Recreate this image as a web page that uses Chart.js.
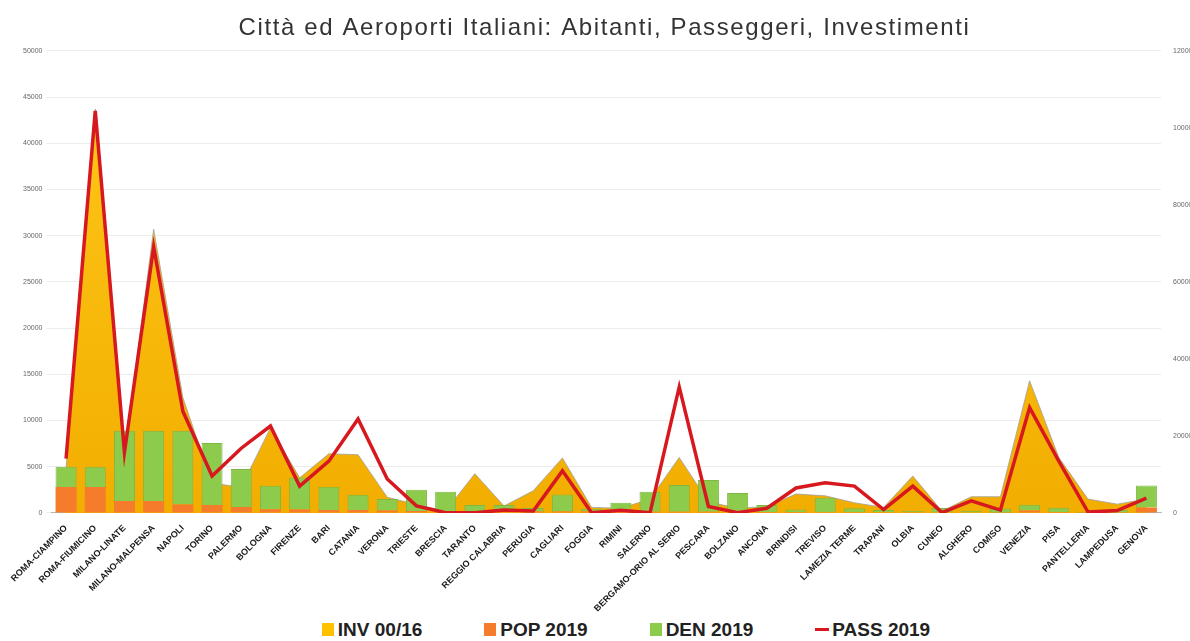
<!DOCTYPE html>
<html lang="it">
<head>
  <meta charset="UTF-8" />
  <script src="https://cdn.jsdelivr.net/npm/chart.js"></script>
  <title>Città ed Aeroporti Italiani</title>
  <style>
    body { margin: 0; background: #fff; font-family: "Liberation Sans", Arial, sans-serif; }
    #wrap { position: relative; width: 1190px; height: 618px; }
    #legend { display: flex; justify-content: center; gap: 62px; height: 23px; align-items: center; padding-left: 62px; }
    #legend .item { display: flex; align-items: center; font-weight: bold; font-size: 19px; color: #222; }
    #legend .box { width: 12px; height: 13px; margin-right: 4px; }
    #legend .line { width: 14px; height: 3px; margin-right: 3px; }
  </style>
</head>
<body>
  <div id="wrap"><canvas id="chart"></canvas></div>
  <div id="legend"></div>

  <script>
    const cities = ['ROMA-CIAMPINO', 'ROMA-FIUMICINO', 'MILANO-LINATE', 'MILANO-MALPENSA', 'NAPOLI',
      'TORINO', 'PALERMO', 'BOLOGNA', 'FIRENZE', 'BARI', 'CATANIA', 'VERONA', 'TRIESTE', 'BRESCIA',
      'TARANTO', 'REGGIO CALABRIA', 'PERUGIA', 'CAGLIARI', 'FOGGIA', 'RIMINI', 'SALERNO',
      'BERGAMO-ORIO AL SERIO', 'PESCARA', 'BOLZANO', 'ANCONA', 'BRINDISI', 'TREVISO', 'LAMEZIA TERME',
      'TRAPANI', 'OLBIA', 'CUNEO', 'ALGHERO', 'COMISO', 'VENEZIA', 'PISA', 'PANTELLERIA', 'LAMPEDUSA', 'GENOVA'];

    // investimenti 2000-2016
    const inv = [4800, 43700, 6500, 30700, 12500, 3200, 2800, 9200, 3800, 6400, 6300, 1700, 900, 200,
      4250, 750, 2400, 5950, 600, 500, 1500, 6000, 1200, 500, 700, 2050, 1850, 1100, 600, 4000,
      200, 1750, 1750, 14300, 6000, 1500, 950, 1500];

    // popolazione (migliaia)
    const pop = [2800, 2800, 1300, 1300, 900, 870, 650, 390, 380, 320, 310, 260, 200, 200, 195, 180,
      165, 150, 150, 150, 130, 120, 120, 107, 100, 87, 85, 70, 67, 60, 56, 44, 30, 260, 90, 8, 6, 580];

    // densità abitanti/km2
    const den = [2200, 2200, 7600, 7600, 8000, 6700, 4100, 2550, 3450, 2500, 1650, 1250, 2300, 2100,
      670, 680, 360, 1850, 300, 950, 2150, 2900, 3450, 2050, 760, 270, 1550, 440, 240, 160, 470,
      190, 460, 630, 480, 90, 300, 2400];

    // passeggeri 2019 (migliaia)
    const pass = [5880, 43500, 6570, 28800, 11000, 4000, 7000, 9400, 2900, 5600, 10170, 3680, 760, 30,
      10, 320, 200, 4550, 10, 300, 10, 13630, 700, 30, 500, 2700, 3250, 2900, 360, 2900, 30, 1300,
      300, 11400, 5600, 100, 250, 1600];

    const leftTicks = { min: 0, max: 50000, step: 5000 };
    const rightTicks = { min: 0, max: 1200000, step: 200000 };

    const colors = {
      inv: '#FFC000',
      pop: '#F47C2A',
      den: '#8CCB4C',
      pass: '#D7191F'
    };

    function invGradient(context) {
      const area = context.chart.chartArea;
      if (!area) return colors.inv;
      const g = context.chart.ctx.createLinearGradient(0, area.top, 0, area.bottom);
      g.addColorStop(0, '#FFC81A');
      g.addColorStop(1, '#F2AE00');
      return g;
    }

    const plain = v => String(v);

    // spread the title letters a little
    const titleSpacing = {
      id: 'titleSpacing',
      beforeLayout(chart) {
        const block = chart.titleBlock;
        if (!block || block._spaced) return;
        const draw = block.draw.bind(block);
        block.draw = function () {
          this.ctx.save();
          this.ctx.letterSpacing = '1.6px';
          draw();
          this.ctx.restore();
        };
        block._spaced = true;
      }
    };

    new Chart(document.getElementById('chart'), {
      data: {
        labels: cities,
        datasets: [
          {
            type: 'line', label: 'INV 00/16', data: inv, stack: 'inv', order: 2,
            fill: 'origin', backgroundColor: invGradient, borderColor: '#a0a0a0', borderWidth: 0.8,
            pointRadius: 0, tension: 0
          },
          {
            type: 'bar', label: 'POP 2019', data: pop, stack: 'city', order: 1,
            backgroundColor: colors.pop, barPercentage: 1, categoryPercentage: 0.72
          },
          {
            type: 'bar', label: 'DEN 2019', data: den, stack: 'city', order: 1,
            backgroundColor: colors.den, borderColor: '#7fb644', borderWidth: { top: 1, left: 1, right: 1, bottom: 0 },
            barPercentage: 1, categoryPercentage: 0.72
          },
          {
            type: 'line', label: 'PASS 2019', data: pass, stack: 'pass', order: 0,
            borderColor: colors.pass, borderWidth: 3.5, pointRadius: 0, tension: 0, fill: false
          }
        ]
      },
      plugins: [titleSpacing],
      options: {
        responsive: true,
        maintainAspectRatio: false,
        animation: false,
        layout: { padding: { left: 19, right: 0, bottom: 2 } },
        plugins: {
          legend: { display: false },
          tooltip: { enabled: false },
          title: {
            display: true,
            text: 'Città ed Aeroporti Italiani: Abitanti, Passeggeri, Investimenti',
            color: '#333',
            font: { family: 'Liberation Sans', size: 24, weight: 'normal' },
            padding: { top: 14, bottom: 8 }
          }
        },
        scales: {
          x: {
            stacked: true,
            grid: { display: false },
            border: { color: '#b5b5b5' },
            ticks: {
              autoSkip: false, maxRotation: 45, minRotation: 45, color: '#1a1a1a', padding: 2,
              font: { family: 'Liberation Sans', size: 9, weight: 'bold' }
            }
          },
          y: {
            stacked: true,
            min: leftTicks.min, max: leftTicks.max,
            grid: { color: '#ececec', tickLength: 5 },
            border: { display: false },
            ticks: { stepSize: leftTicks.step, callback: plain, color: '#666', padding: 4, font: { family: 'Liberation Sans', size: 7 } }
          },
          y2: {
            position: 'right',
            min: rightTicks.min, max: rightTicks.max,
            grid: { drawOnChartArea: false, display: false },
            border: { display: false },
            ticks: { stepSize: rightTicks.step, callback: plain, color: '#666', padding: 4, font: { family: 'Liberation Sans', size: 7 } },
            afterFit: scale => { scale.width = 29; }
          }
        }
      }
    });

    // legend below the chart
    const legendItems = [
      { text: 'INV 00/16', color: colors.inv, kind: 'box' },
      { text: 'POP 2019', color: colors.pop, kind: 'box' },
      { text: 'DEN 2019', color: colors.den, kind: 'box' },
      { text: 'PASS 2019', color: colors.pass, kind: 'line' }
    ];
    const legend = document.getElementById('legend');
    legendItems.forEach(it => {
      const el = document.createElement('div');
      el.className = 'item';
      const mark = document.createElement('span');
      mark.className = it.kind;
      mark.style.background = it.color;
      el.appendChild(mark);
      el.appendChild(document.createTextNode(it.text));
      legend.appendChild(el);
    });
  </script>
</body>
</html>
